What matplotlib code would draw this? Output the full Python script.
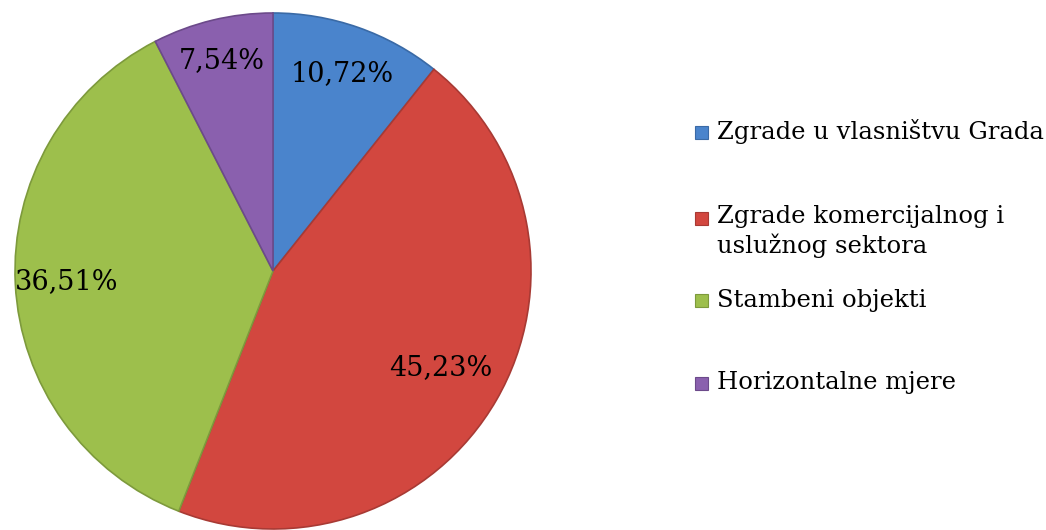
import numpy as np
import matplotlib.pyplot as plt
import matplotlib.patches as mpatches

labels = ['Zgrade u vlasništvu Grada', 'Zgrade komercijalnog i\nuslužnog sektora',
          'Stambeni objekti', 'Horizontalne mjere']
values = [10.72, 45.23, 36.51, 7.54]
pct_text = ['10,72%', '45,23%', '36,51%', '7,54%']
colors = ['#4a84cc', '#d2473f', '#9dbf4c', '#8a60ae']
edges = ['#3a6aa6', '#a83a34', '#7d9a3c', '#6c4a8a']

plt.rcParams['font.family'] = ['DejaVu Serif']

fig = plt.figure(figsize=(10.46, 5.30), dpi=100)
R = 258
cx, cy = 273, 530 - 271
ax = fig.add_axes([(cx - R) / 1046, (cy - R) / 530, 2 * R / 1046, 2 * R / 530])

wedges, _ = ax.pie(values, colors=colors, startangle=90, counterclock=False,
                   wedgeprops=dict(linewidth=1.2))
for w, e in zip(wedges, edges):
    w.set_edgecolor(e)
ax.set_xlim(-1, 1)
ax.set_ylim(-1, 1)
ax.set_aspect('equal')

# percentage labels, placed a bit differently per slice like the original
dist = [0.81, 0.75, 0.80, 0.84]
for w, t, d in zip(wedges, pct_text, dist):
    ang = np.deg2rad((w.theta1 + w.theta2) / 2)
    ax.text(d * np.cos(ang), d * np.sin(ang), t, ha='center', va='center',
            fontsize=19.5, color='black')

# legend drawn by hand to get the uneven spacing
leg_y = [132, 218, 300, 383]
for y, lab, c, e in zip(leg_y, labels, colors, edges):
    fy = (530 - y) / 530
    fig.patches.append(mpatches.Rectangle((695 / 1046, fy - 6.5 / 530), 13 / 1046, 13 / 530,
                                          transform=fig.transFigure, facecolor=c,
                                          edgecolor=e, linewidth=0.8))
    if '\n' in lab:
        fig.text(717 / 1046, fy + 13 / 530, lab, ha='left', va='top',
                 fontsize=17.5, linespacing=1.3)
    else:
        fig.text(717 / 1046, fy, lab, ha='left', va='center', fontsize=17.5)

fig.savefig('out.png', dpi=100)
